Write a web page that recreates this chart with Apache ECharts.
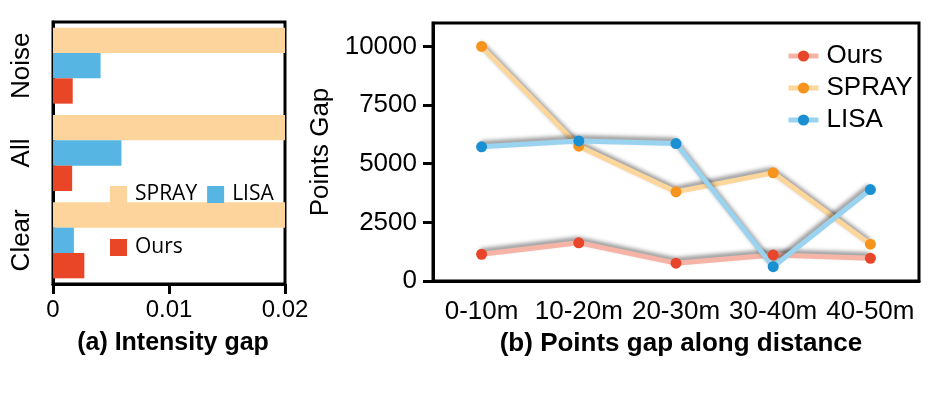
<!DOCTYPE html>
<html>
<head>
<meta charset="utf-8">
<script src="https://cdn.jsdelivr.net/npm/echarts@6/dist/echarts.min.js"></script>
<style>
  html, body { margin: 0; padding: 0; background: #fff; }
  #chart { width: 931px; height: 397px; }
</style>
</head>
<body>
<div id="chart"></div>
<script>
// (a) intensity gap, categories listed bottom to top
const gapCategories = ['Clear', 'All', 'Noise']
const gapOurs = [0.0027, 0.00165, 0.0017]
const gapLisa = [0.0018, 0.0059, 0.0041]
const gapSpray = [0.02, 0.02, 0.02]

// (b) points gap along distance
const distanceBins = ['0-10m', '10-20m', '20-30m', '30-40m', '40-50m']
const pointsOurs = [1140, 1630, 760, 1110, 970]
const pointsSpray = [10000, 5750, 3800, 4610, 1570]
const pointsLisa = [5720, 5970, 5860, 610, 3900]

const font = 'Liberation Sans'
const black = '#000'
const frameLine = { lineStyle: { color: black, width: 3 } }

// line series share a name with the bars, so they get a suffix that the legend strips
const SUFFIX = ' (b)'

function lineSeries(name, data, lineColor, dotColor) {
  return {
    name: name + SUFFIX,
    type: 'line',
    xAxisIndex: 1,
    yAxisIndex: 1,
    data: data,
    symbol: 'circle',
    symbolSize: 11,
    itemStyle: { color: dotColor },
    lineStyle: {
      color: lineColor,
      width: 5,
      shadowColor: 'rgba(0, 0, 0, 0.45)',
      shadowBlur: 4,
      shadowOffsetX: -1,
      shadowOffsetY: -3,
    },
  }
}

const barLegendText = { fontFamily: 'Open Sans', fontSize: 21, color: black, padding: [0, 0, 0, 3] }

const chart = echarts.init(document.getElementById('chart'))
chart.setOption({
  animation: false,
  backgroundColor: '#fff',
  textStyle: { fontFamily: font, color: black },
  title: [
    {
      text: '(a) Intensity gap',
      left: 168,
      top: 326,
      textAlign: 'center',
      textStyle: { fontFamily: font, fontSize: 25, fontWeight: 'bold', color: black },
    },
    {
      text: '(b) Points gap along distance',
      left: 676,
      top: 326,
      textAlign: 'center',
      textStyle: { fontFamily: font, fontSize: 26, fontWeight: 'bold', color: black },
    },
  ],
  legend: [
    {
      data: ['SPRAY', 'LISA'],
      left: 105,
      top: 179,
      icon: 'rect',
      itemWidth: 17,
      itemHeight: 17,
      itemGap: 10,
      textStyle: barLegendText,
    },
    {
      data: ['Ours'],
      left: 105,
      top: 232,
      icon: 'rect',
      itemWidth: 17,
      itemHeight: 17,
      textStyle: barLegendText,
    },
    {
      data: ['Ours' + SUFFIX, 'SPRAY' + SUFFIX, 'LISA' + SUFFIX],
      orient: 'vertical',
      left: 781,
      top: 38,
      itemWidth: 30,
      itemHeight: 14,
      itemGap: 6,
      lineStyle: { width: 5, shadowBlur: 0, shadowOffsetX: 0, shadowOffsetY: 0 },
      formatter: (name) => name.replace(SUFFIX, ''),
      textStyle: { fontFamily: font, fontSize: 26, color: black, lineHeight: 26, padding: [0, 0, 0, 3] },
    },
  ],
  grid: [
    { left: 53, right: 646, top: 22, bottom: 113, show: true, borderColor: black, borderWidth: 3 },
    { left: 433, right: 12, top: 23, bottom: 116, show: true, borderColor: black, borderWidth: 3 },
  ],
  xAxis: [
    {
      gridIndex: 0,
      type: 'value',
      min: 0,
      max: 0.02,
      interval: 0.01,
      axisLine: { show: true, ...frameLine },
      axisTick: { show: true, length: 10, lineStyle: { color: black, width: 3 } },
      axisLabel: { fontFamily: font, fontSize: 24, color: black, margin: 14 },
      splitLine: { show: false },
    },
    {
      gridIndex: 1,
      type: 'category',
      data: distanceBins,
      boundaryGap: true,
      axisLine: frameLine,
      axisTick: { length: 11, lineStyle: { color: black, width: 3 } },
      axisLabel: { fontFamily: font, fontSize: 26, color: black, margin: 18, interval: 0 },
    },
  ],
  yAxis: [
    {
      gridIndex: 0,
      type: 'category',
      data: gapCategories,
      axisLine: frameLine,
      axisTick: { show: false },
      axisLabel: { fontFamily: font, fontSize: 26, color: black, rotate: 90, margin: 18 },
    },
    {
      gridIndex: 1,
      type: 'value',
      min: 0,
      max: 11000,
      interval: 2500,
      name: 'Points Gap',
      nameLocation: 'middle',
      nameRotate: 90,
      nameGap: 72,
      nameTextStyle: { fontFamily: font, fontSize: 26, color: black },
      axisLine: { show: true, ...frameLine },
      axisTick: { show: true, length: 10, lineStyle: { color: black, width: 3 } },
      axisLabel: {
        fontFamily: font, fontSize: 26, color: black, margin: 16, showMaxLabel: false,
        formatter: (v) => String(v),
      },
      splitLine: { show: false },
    },
  ],
  series: [
    // first bar series lands at the top of each band
    {
      name: 'SPRAY', type: 'bar', xAxisIndex: 0, yAxisIndex: 0, data: gapSpray,
      itemStyle: { color: '#fdd49c' }, barGap: '0%', barCategoryGap: '13%',
    },
    {
      name: 'LISA', type: 'bar', xAxisIndex: 0, yAxisIndex: 0, data: gapLisa,
      itemStyle: { color: '#56b5e2' }, barGap: '0%', barCategoryGap: '13%',
    },
    {
      name: 'Ours', type: 'bar', xAxisIndex: 0, yAxisIndex: 0, data: gapOurs,
      itemStyle: { color: '#e84626' }, barGap: '0%', barCategoryGap: '13%',
    },
    lineSeries('Ours', pointsOurs, '#f6b4a6', '#e8462a'),
    lineSeries('SPRAY', pointsSpray, '#fdd69c', '#f7941d'),
    lineSeries('LISA', pointsLisa, '#9ad3ef', '#1a90d2'),
  ],
})
</script>
</body>
</html>
